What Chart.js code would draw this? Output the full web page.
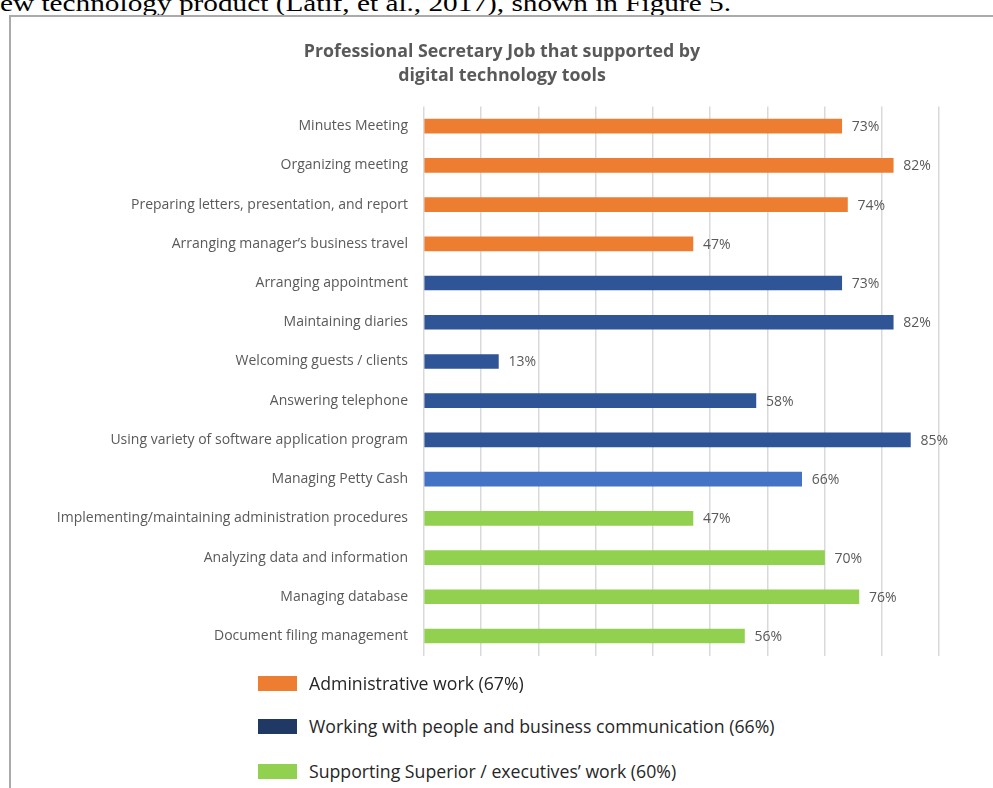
<!DOCTYPE html>
<html>
<head>
<meta charset="utf-8">
<script src="https://cdn.jsdelivr.net/npm/chart.js@4.4.1/dist/chart.umd.min.js"></script>
<style>
  html, body { margin: 0; padding: 0; background: #fff; width: 993px; height: 788px; overflow: hidden; position: relative; }
  #lead { position: absolute; left: 0; top: -11px; font-family: "Liberation Serif", "Times New Roman", serif; font-size: 24px; line-height: 28px; color: #000; white-space: nowrap; transform: scaleX(1.22); transform-origin: 0 0; }
  #frame { position: absolute; left: 9px; top: 15px; width: 1100px; height: 900px; border-left: 2px solid #aaaaaa; border-top: 2px solid #aaaaaa; }
  #wrap { position: absolute; left: 11px; top: 18px; width: 982px; height: 662px; }
  #legend { position: absolute; left: 258px; top: 0; font-family: "Open Sans", sans-serif; font-size: 17.7px; color: #262626; }
  .item { position: absolute; left: 0; white-space: nowrap; display: flex; align-items: center; height: 20px; }
  .sw { width: 39px; height: 15px; margin-right: 12px; flex: none; }
</style>
</head>
<body>
<div id="lead">ew technology product (Latif, et al., 2017), shown in Figure 5.</div>
<div id="frame"></div>
<div id="wrap"><canvas id="chart" width="982" height="662"></canvas></div>
<div id="legend"></div>

<script>
// Job tasks, top to bottom
const categories = [
  "Minutes Meeting",
  "Organizing meeting",
  "Preparing letters, presentation, and report",
  "Arranging manager\u2019s business travel",
  "Arranging appointment",
  "Maintaining diaries",
  "Welcoming guests / clients",
  "Answering telephone",
  "Using variety of software application program",
  "Managing Petty Cash",
  "Implementing/maintaining administration procedures",
  "Analyzing data and information",
  "Managing database",
  "Document filing management"
];

// Share of respondents (%) for each task
const percentages = [73, 82, 74, 47, 73, 82, 13, 58, 85, 66, 47, 70, 76, 56];

// Fill colour of each bar
const barColors = [
  "#ED7D31", "#ED7D31", "#ED7D31", "#ED7D31",
  "#2F5597", "#2F5597", "#2F5597", "#2F5597", "#2F5597",
  "#4472C4",
  "#92D050", "#92D050", "#92D050", "#92D050"
];

// Work groups shown in the key
const groupLabels = [
  "Administrative work (67%)",
  "Working with people and business communication (66%)",
  "Supporting Superior / executives\u2019 work (60%)"
];
const groupColors = ["#ED7D31", "#203864", "#92D050"];
const groupRowCenters = [683, 726, 771];

// Value axis ticks (gridlines every 10%)
const axisMin = 0;
const axisMax = 90;
const axisStep = 10;

// Percent labels at the end of each bar
const valueLabels = {
  id: "valueLabels",
  afterDatasetsDraw(chart) {
    const ctx = chart.ctx;
    const meta = chart.getDatasetMeta(0);
    const values = chart.data.datasets[0].data;
    ctx.save();
    ctx.font = "14px 'Open Sans', sans-serif";
    ctx.fillStyle = "#595959";
    ctx.textAlign = "left";
    ctx.textBaseline = "middle";
    meta.data.forEach((bar, i) => {
      ctx.fillText(values[i] + "%", bar.x + 10, bar.y + 1);
    });
    ctx.restore();
  }
};

new Chart(document.getElementById("chart"), {
  type: "bar",
  data: {
    labels: categories,
    datasets: [{
      data: percentages,
      backgroundColor: barColors,
      borderWidth: 0,
      barThickness: 14
    }]
  },
  options: {
    indexAxis: "y",
    responsive: false,
    animation: false,
    layout: { padding: 0 },
    plugins: {
      legend: { display: false },
      tooltip: { enabled: false },
      title: {
        display: true,
        text: ["Professional Secretary Job that supported by", "digital technology tools"],
        color: "#595959",
        font: { family: "'Open Sans', sans-serif", size: 17.8, weight: "bold", lineHeight: 1.35 },
        padding: { top: 22, bottom: 18.5 }
      }
    },
    scales: {
      x: {
        min: axisMin,
        max: axisMax,
        ticks: { display: false, stepSize: axisStep },
        grid: { color: "#d9d9d9", lineWidth: 1.5, drawTicks: false },
        border: { display: false },
        afterFit(scale) { scale.height = 0; }
      },
      y: {
        ticks: {
          color: "#595959",
          font: { family: "'Open Sans', sans-serif", size: 14 },
          padding: 16,
          autoSkip: false
        },
        grid: { display: false, drawTicks: false },
        border: { display: false },
        afterFit(scale) { scale.width = 413; }
      },
      // empty margin on the right, leaving room for the end labels
      yMargin: {
        type: "category",
        axis: "y",
        position: "right",
        ticks: { display: false },
        grid: { display: false, drawTicks: false },
        border: { display: false },
        afterFit(scale) { scale.width = 54; }
      }
    }
  },
  plugins: [valueLabels]
});

// Key for the three work groups
const legend = document.getElementById("legend");
groupLabels.forEach((label, i) => {
  const row = document.createElement("div");
  row.className = "item";
  row.style.top = (groupRowCenters[i] - 10) + "px";
  const sw = document.createElement("span");
  sw.className = "sw";
  sw.style.background = groupColors[i];
  const tx = document.createElement("span");
  tx.textContent = label;
  row.appendChild(sw);
  row.appendChild(tx);
  legend.appendChild(row);
});
</script>
</body>
</html>
